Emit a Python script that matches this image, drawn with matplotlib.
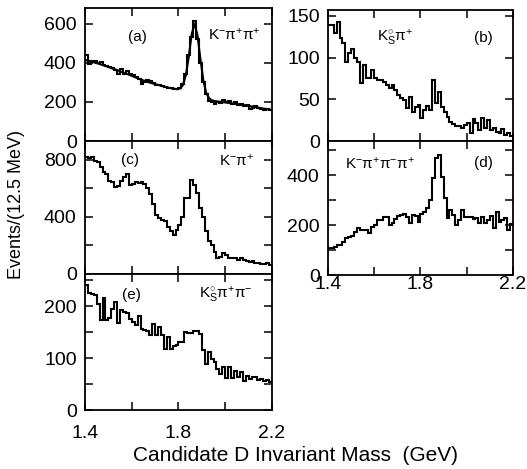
import numpy as np
import matplotlib
matplotlib.use("Agg")
import matplotlib.pyplot as plt
from matplotlib.ticker import MultipleLocator, FixedLocator, FuncFormatter

plt.rcParams['font.family'] = ['Liberation Sans', 'DejaVu Sans']
plt.rcParams['mathtext.fontset'] = 'custom'
plt.rcParams['mathtext.rm'] = 'Liberation Sans'
plt.rcParams['mathtext.it'] = 'Liberation Sans'

# 64 bins of 12.5 MeV from 1.4 to 2.2 GeV
edges = 1.4 + 0.0125 * np.arange(65)
centers = 0.5 * (edges[:-1] + edges[1:])

hist_a = [440, 395, 410, 410, 398, 405, 388, 382, 378, 372, 362, 345, 368, 340, 358, 345,
          335, 325, 318, 290, 300, 312, 305, 295, 288, 285, 280, 277, 272, 270, 266, 265,
          270, 290, 340, 440, 530, 612, 520, 400, 300, 240, 205, 198, 190, 200, 195, 210,
          200, 205, 190, 200, 185, 188, 180, 182, 165, 170, 180, 170, 165, 160, 162, 158]
fit_a = [413, 409, 405, 400, 396, 391, 386, 381, 376, 370, 365, 359, 353, 347, 342, 336,
         330, 324, 318, 312, 307, 302, 297, 293, 289, 285, 281, 277, 273, 270, 267, 265,
         268, 285, 335, 430, 545, 600, 540, 420, 310, 245, 218, 208, 204, 202, 200, 198,
         196, 194, 192, 190, 188, 185, 183, 180, 178, 176, 173, 170, 167, 165, 162, 160]
hist_b = [139, 139, 129, 143, 123, 117, 95, 105, 110, 99, 95, 69, 91, 75, 75, 85,
          75, 73, 73, 71, 67, 63, 67, 61, 55, 52, 49, 39, 53, 35, 41, 43,
          27, 37, 42, 37, 73, 45, 59, 41, 35, 29, 23, 20, 18, 18, 15, 19,
          22, 9, 26, 21, 13, 27, 15, 25, 13, 16, 11, 9, 14, 7, 9, 6]
hist_c = [820, 810, 815, 790, 780, 745, 710, 700, 650, 645, 610, 615, 650, 675, 700, 625,
          630, 640, 635, 640, 630, 600, 560, 490, 410, 390, 380, 370, 330, 300, 275, 305,
          340, 400, 530, 530, 660, 625, 565, 460, 400, 300, 230, 200, 155, 110, 120, 145,
          130, 115, 112, 115, 100, 110, 95, 90, 85, 88, 80, 75, 72, 70, 80, 65]
hist_d = [107, 107, 113, 120, 120, 133, 147, 153, 155, 173, 187, 180, 180, 182, 167, 191,
          200, 220, 222, 233, 232, 200, 207, 223, 236, 240, 244, 233, 210, 240, 236, 212,
          244, 253, 267, 300, 387, 467, 480, 393, 307, 227, 260, 240, 200, 220, 260, 233,
          232, 232, 223, 227, 207, 232, 207, 220, 236, 187, 253, 213, 220, 227, 180, 205]
hist_e = [240, 226, 224, 222, 205, 173, 215, 173, 178, 195, 208, 167, 192, 188, 186, 176,
          170, 163, 182, 157, 155, 152, 144, 166, 144, 160, 144, 118, 140, 118, 124, 125,
          131, 131, 150, 148, 148, 153, 152, 147, 115, 89, 111, 98, 92, 79, 69, 82,
          62, 82, 62, 76, 64, 74, 56, 66, 60, 64, 64, 58, 60, 56, 58, 53]

labels = ['(a)', '(b)', '(c)', '(d)', '(e)']
modes = ['K$^{-}$π$^{+}$π$^{+}$', 'K$_\\mathrm{S}^{\\circ}$π$^{+}$', 'K$^{-}$π$^{+}$',
         'K$^{-}$π$^{+}$π$^{-}$π$^{+}$', 'K$_\\mathrm{S}^{\\circ}$π$^{+}$π$^{-}$']
x_ticks = [1.4, 1.6, 1.8, 2.0, 2.2]
x_labels = [1.4, 1.8, 2.2]

W, H = 527, 469
fig = plt.figure(figsize=(W / 100, H / 100), dpi=100)


def px_axes(x0, x1, ytop, ybot):
    return fig.add_axes([x0 / W, 1 - ybot / H, (x1 - x0) / W, (ybot - ytop) / H])


def style(ax, ymax, ystep, ylab, show_x, xpad=3):
    ax.set_xlim(1.4, 2.2)
    ax.set_ylim(0, ymax)
    ax.xaxis.set_major_locator(FixedLocator(x_ticks))
    ax.yaxis.set_major_locator(MultipleLocator(ystep))
    ax.tick_params(direction='in', top=True, right=True, length=6, width=1.1,
                   labelsize=14)
    ax.tick_params(axis='y', pad=6)
    ax.tick_params(axis='x', pad=xpad)
    ax.xaxis.set_major_formatter(FuncFormatter(
        lambda v, p: ('%.1f' % v) if show_x and any(abs(v - l) < 1e-6 for l in x_labels) else ''))
    ax.yaxis.set_major_formatter(FuncFormatter(
        lambda v, p: ('%d' % round(v)) if any(abs(v - l) < 1e-6 for l in ylab) else ''))
    for s in ax.spines.values():
        s.set_linewidth(1.3)


lw = 1.5
ax_a = px_axes(85, 272, 8, 141)
ax_c = px_axes(85, 272, 141, 274)
ax_e = px_axes(85, 272, 274, 410)
ax_b = px_axes(328, 513, 10, 141)
ax_d = px_axes(328, 513, 141, 275)

ax_a.stairs(hist_a, edges, baseline=None, color='k', lw=lw)
ax_a.plot(centers, fit_a, color='k', lw=lw)
style(ax_a, 680, 200, [0, 200, 400, 600], False)
ax_a.text(0.28, 0.78, labels[0], transform=ax_a.transAxes, ha='center', va='center', fontsize=11)
ax_a.text(0.80, 0.80, modes[0], transform=ax_a.transAxes, ha='center', va='center', fontsize=11)

ax_c.stairs(hist_c, edges, baseline=None, color='k', lw=lw)
style(ax_c, 930, 200, [0, 400, 800], False)
ax_c.text(0.24, 0.855, labels[2], transform=ax_c.transAxes, ha='center', va='center', fontsize=11)
ax_c.text(0.81, 0.855, modes[2], transform=ax_c.transAxes, ha='center', va='center', fontsize=11)

ax_e.stairs(hist_e, edges, baseline=None, color='k', lw=lw)
style(ax_e, 262, 50, [0, 100, 200], True, xpad=11)
ax_e.text(0.25, 0.845, labels[4], transform=ax_e.transAxes, ha='center', va='center', fontsize=11)
ax_e.text(0.755, 0.845, modes[4], transform=ax_e.transAxes, ha='center', va='center', fontsize=11)

ax_b.stairs(hist_b, edges, baseline=None, color='k', lw=lw)
style(ax_b, 157, 50, [0, 50, 100, 150], False)
ax_b.text(0.84, 0.79, labels[1], transform=ax_b.transAxes, ha='center', va='center', fontsize=11)
ax_b.text(0.36, 0.79, modes[1], transform=ax_b.transAxes, ha='center', va='center', fontsize=11)

ax_d.stairs(hist_d, edges, baseline=None, color='k', lw=lw)
style(ax_d, 536, 100, [0, 200, 400], True, xpad=1)
ax_d.text(0.84, 0.835, labels[3], transform=ax_d.transAxes, ha='center', va='center', fontsize=11)
ax_d.text(0.28, 0.835, modes[3], transform=ax_d.transAxes, ha='center', va='center', fontsize=11)

fig.text(0.032, 0.563, 'Events/(12.5 MeV)', rotation=90, ha='center', va='center', fontsize=13)
fig.text(0.56, 0.028, 'Candidate D Invariant Mass  (GeV)', ha='center', va='center', fontsize=15)

fig.savefig('out.png', dpi=100)
